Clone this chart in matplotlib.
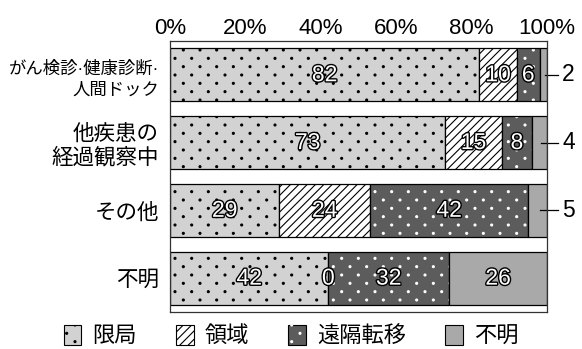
import numpy as np
import matplotlib
matplotlib.use("Agg")
import matplotlib.pyplot as plt
import matplotlib.patheffects as pe
from matplotlib import hatch as mhatch
from matplotlib.path import Path
from matplotlib.patches import Patch

plt.rcParams['font.family'] = ['Liberation Sans', 'Noto Sans CJK JP']
plt.rcParams['hatch.linewidth'] = 0.8


# 原図のような千鳥配置の点ハッチ（'.' を置き換える）
class StaggeredDots(mhatch.HatchPatternBase):
    def __init__(self, hatch, density):
        n = hatch.count('.') * density
        pts = []
        for r in range(2 * n + 1 if n else 0):
            yy = r / (2 * n)
            if r % 2 == 0:
                xs = np.linspace(0, 1, n + 1)
            else:
                xs = np.linspace(0.5 / n, 1 - 0.5 / n, n)
            pts += [(x, yy) for x in xs]
        self.centers = np.array(pts).reshape(-1, 2)
        circle = Path.unit_circle()
        self.shape_vertices = circle.vertices * 0.01
        self.shape_codes = circle.codes
        self.num_vertices = len(self.centers) * len(self.shape_vertices)

    def set_vertices_and_codes(self, vertices, codes):
        k = len(self.shape_vertices)
        for i, (cx, cy) in enumerate(self.centers):
            vertices[i * k:(i + 1) * k] = self.shape_vertices + (cx, cy)
            codes[i * k:(i + 1) * k] = self.shape_codes


mhatch._hatch_types = [StaggeredDots if t is mhatch.SmallFilledCircles else t
                       for t in mhatch._hatch_types]

# データ (%)
categories = ['がん検診·健康診断·\n人間ドック', '他疾患の\n経過観察中', 'その他', '不明']
local = [82, 73, 29, 42]
regional = [10, 15, 24, 0]
distant = [6, 8, 42, 32]
unknown = [2, 4, 5, 26]
series_names = ['限局', '領域', '遠隔転移', '不明']
xticks = [0, 20, 40, 60, 80, 100]

c_local = '#d2d2d2'
c_dark = '#5c5c5c'
c_unk = '#a9a9a9'

fig = plt.figure(figsize=(5.82, 3.49), dpi=100)
ax = fig.add_axes([0.292, 0.106, 0.648, 0.777])

y = list(range(len(categories)))
h = 0.78
outline = [pe.withStroke(linewidth=2.0, foreground='black')]

left = [0] * len(y)
series = [local, regional, distant, unknown]
for k, vals in enumerate(series):
    for i in y:
        v = vals[i]
        if v > 0:
            if k == 0:
                ax.barh(i, v, left=left[i], height=h, color=c_local, edgecolor='black',
                        linewidth=0.9, hatch='.')
            elif k == 1:
                ax.barh(i, v, left=left[i], height=h, color='white', edgecolor='black',
                        linewidth=0.9, hatch='////')
            elif k == 2:
                ax.barh(i, v, left=left[i], height=h, color=c_dark, edgecolor='none', linewidth=0)
                ax.barh(i, v, left=left[i], height=h, color='none', edgecolor='white',
                        linewidth=0, hatch='.')
                ax.barh(i, v, left=left[i], height=h, color='none', edgecolor='black', linewidth=0.9)
            else:
                ax.barh(i, v, left=left[i], height=h, color=c_unk, edgecolor='black', linewidth=0.9)
        # ラベル
        if k == 3 and v < 10:
            ax.plot([left[i] + v / 2 + 0.5, left[i] + v + 2.8], [i, i], color='black',
                    linewidth=0.9, clip_on=False)
            ax.text(left[i] + v + 4, i, str(v), ha='left', va='center', fontsize=16.5,
                    color='black', clip_on=False)
        else:
            ax.text(left[i] + v / 2, i, str(v), ha='center', va='center', fontsize=16.5,
                    color='white', path_effects=outline)
        left[i] += v

ax.set_xlim(0, 100)
ax.set_ylim(len(categories) - 0.5, -0.5)
ax.set_yticks(y)
ax.set_yticklabels(categories, fontsize=15.5, multialignment='right', linespacing=1.15)
ax.get_yticklabels()[0].set_fontsize(12.5)
ax.get_yticklabels()[0].set_linespacing(1.45)
ax.set_xticks(xticks)
ax.set_xticklabels([f'{t}%' for t in xticks], fontsize=16)
ax.xaxis.tick_top()
ax.tick_params(axis='x', length=0, pad=1)
ax.tick_params(axis='y', length=0, pad=8)
for s in ax.spines.values():
    s.set_linewidth(0.9)
    s.set_color('#333333')

# 凡例
handles = [
    Patch(facecolor=c_local, edgecolor='black', hatch='.', linewidth=0.8),
    Patch(facecolor='white', edgecolor='black', hatch='////', linewidth=0.8),
    (Patch(facecolor=c_dark, edgecolor='black', linewidth=0.8),
     Patch(facecolor='none', edgecolor='white', hatch='.', linewidth=0)),
    Patch(facecolor=c_unk, edgecolor='black', linewidth=0.8),
]
fig.legend(handles, series_names, loc='center', bbox_to_anchor=(0.5, 0.037), ncol=4,
           frameon=False, fontsize=16, handlelength=0.8, handleheight=1.0,
           handletextpad=0.5, columnspacing=1.75, borderpad=0)

fig.savefig('out.png', dpi=100)
